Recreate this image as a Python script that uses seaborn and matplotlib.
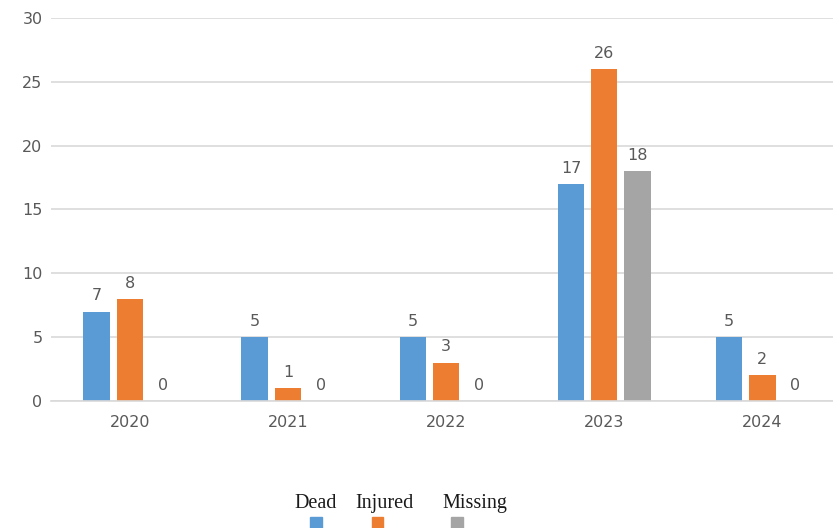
import numpy as np
import pandas as pd
import seaborn as sns
import matplotlib.pyplot as plt
from matplotlib.patches import Rectangle

years = ["2020", "2021", "2022", "2023", "2024"]
dead = [7, 5, 5, 17, 5]
injured = [8, 1, 3, 26, 2]
missing = [0, 0, 0, 18, 0]
series = ["Dead", "Injured", "Missing"]
colors = ["#5B9BD5", "#ED7D31", "#A5A5A5"]

df = pd.DataFrame({"year": years * 3,
                   "value": dead + injured + missing,
                   "series": [s for s in series for _ in years]})

sns.set_style("white")
fig = plt.figure(figsize=(8.33, 5.28), dpi=100)
ax = fig.add_axes([0.061, 0.2405, 0.949, 0.7255])

sns.barplot(data=df, x="year", y="value", hue="series", palette=colors,
            width=0.63, gap=0.2, ax=ax, legend=False, saturation=1,
            linewidth=0)

for c in ax.containers:
    ax.bar_label(c, fmt="%d", padding=6, fontsize=11.5, color="#595959")

ax.set_ylim(0, 30)
ax.set_yticks(range(0, 31, 5))
ax.set_xlim(-0.5, 4.5)
ax.yaxis.grid(True, color="#D9D9D9", linewidth=1.2)
ax.set_axisbelow(True)
for s in ["top", "right", "left"]:
    ax.spines[s].set_visible(False)
ax.spines["bottom"].set_color("#D9D9D9")
ax.spines["bottom"].set_linewidth(1.2)
ax.tick_params(axis="both", length=0, labelsize=11.5, labelcolor="#595959")
ax.tick_params(axis="x", pad=10)
ax.tick_params(axis="y", pad=6)
ax.set_xlabel("")
ax.set_ylabel("")

# legend: labels above small squares
label_x = [0.379, 0.461, 0.570]
square_x = [0.379, 0.453, 0.549]
for lx, sx, name, col in zip(label_x, square_x, series, colors):
    fig.text(lx, 0.028, name, ha="center", va="bottom", fontsize=14.5,
             family="Liberation Serif", color="#1a1a1a")
    fig.patches.append(Rectangle((sx - 0.007, 0.0), 0.014, 0.02,
                                 transform=fig.transFigure, color=col))

fig.savefig("out.png", dpi=100)
